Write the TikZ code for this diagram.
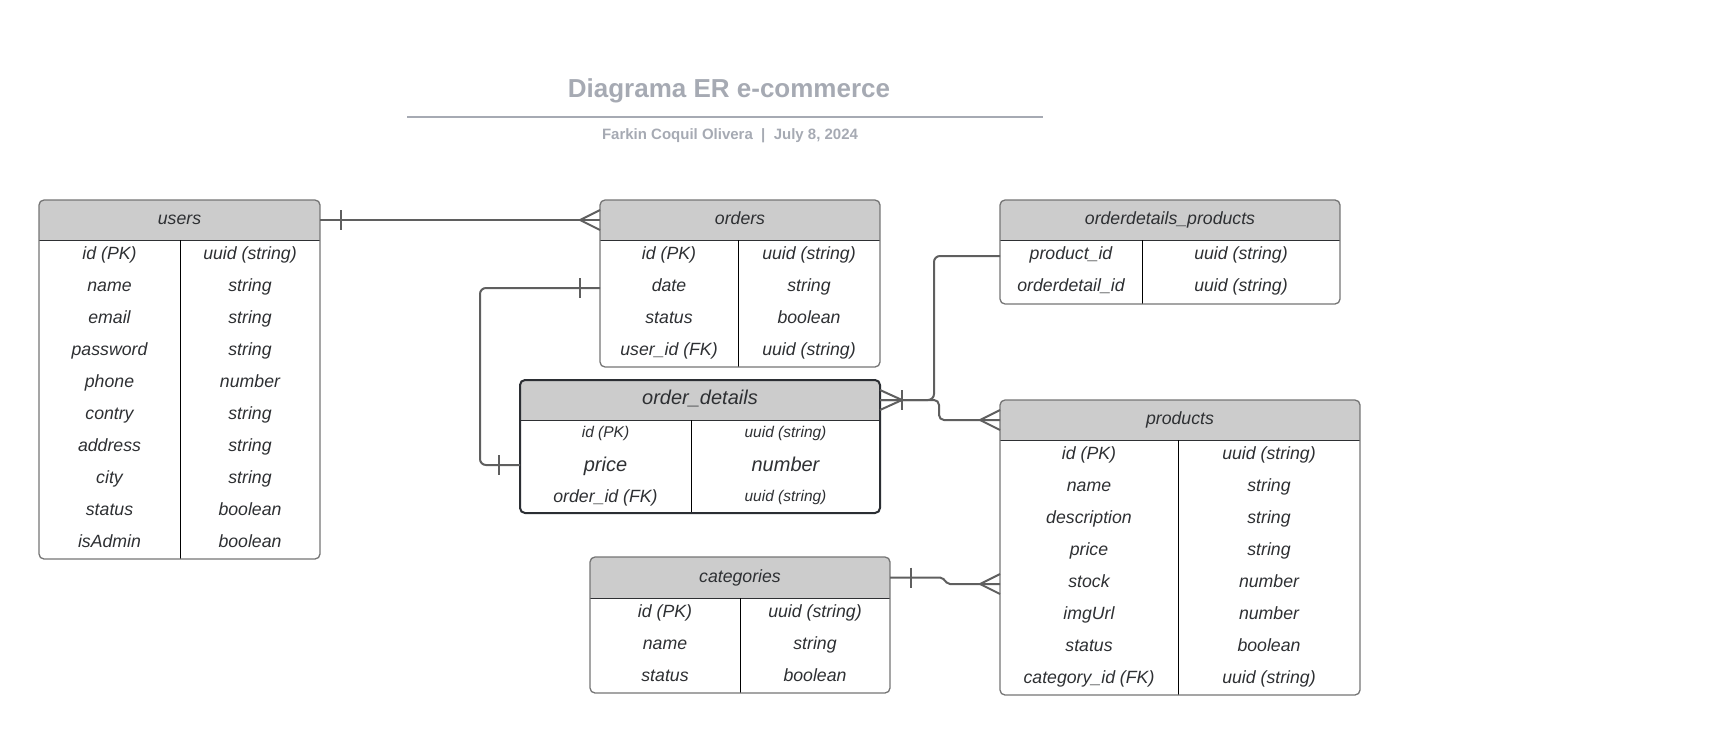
\documentclass[tikz,border=0pt]{standalone}
\usepackage{fontspec}
\setmainfont{Liberation Sans}
\usetikzlibrary{fit}
\definecolor{hdr}{HTML}{CCCCCC}
\definecolor{bord}{HTML}{757575}
\definecolor{dark}{HTML}{2B2E33}
\definecolor{txt}{HTML}{2E3033}
\definecolor{connc}{HTML}{5F5F5F}
\definecolor{ttl}{HTML}{A6AAB3}
\tikzset{
  tabborder/.style={draw=bord, line width=1.3pt},
  odborder/.style={draw=dark, line width=2pt},
  sepline/.style={draw=txt, line width=1pt},
  divline/.style={draw=black, line width=1pt},
  cellbase/.style={text=txt, inner sep=0pt, anchor=base},
  cell/.style={cellbase, font=\fontsize{17.7}{20}\selectfont\itshape, yshift=-6.5pt},
  bigcell/.style={cellbase, font=\fontsize{20}{23}\selectfont\itshape, yshift=-7pt},
  smallcell/.style={cellbase, font=\fontsize{15.5}{18}\selectfont\itshape, yshift=-5.5pt},
  headcell/.style={cellbase, font=\fontsize{17.7}{20}\selectfont\itshape, yshift=-4.5pt},
  bigheadcell/.style={cellbase, font=\fontsize{20}{23}\selectfont\itshape, yshift=-4.5pt},
  conn/.style={draw=connc, line width=2pt},
}
% #1 name #2 x1 #3 y1 #4 x2 #5 y2 #6 header bottom #7 divider x #8 title #9 border style
\newcommand\ERbox[9]{%
  \begin{scope}
    \clip[rounded corners=5pt] (#2,#3) rectangle (#4,#5);
    \fill[white] (#2,#3) rectangle (#4,#5);
    \fill[hdr] (#2,#3) rectangle (#4,#6);
    \draw[sepline] (#2,#6) -- (#4,#6);
    \draw[divline] (#7,#6) -- (#7,#5);
  \end{scope}
  \node[fit={(#2,#3) (#4,#5)}, inner sep=0pt, outer sep=0pt, rounded corners=5pt, #9] (#1) {};
  \coordinate (#1-hm) at ({(#2+#4)/2},{(#3+#6)/2});
}
% #1 name #2 y #3 left center x #4 right center x #5 left #6 right #7 left style #8 right style
\newcommand\ERrow[8]{%
  \node[#7] (#1a) at (#3,#2) {#5};
  \node[#8] (#1b) at (#4,#2) {#6};
}
\begin{document}
\begin{tikzpicture}[x=1pt,y=-1pt]
\useasboundingbox (0,0) rectangle (1720,736);

% title
\node[font=\fontsize{26}{30}\selectfont\bfseries, text=ttl, inner sep=0pt] (title) at (729,90.5) {Diagrama ER e-commerce};
\coordinate (ruleL) at (407,117);
\coordinate (ruleR) at (1043,117);
\draw[draw=ttl, line width=2pt] (ruleL) -- (ruleR);
\node[font=\fontsize{15}{18}\selectfont\bfseries, text=ttl, inner sep=0pt] (sub) at (730,136) {Farkin Coquil Olivera\ \ |\ \ July 8, 2024};

% users
\ERbox{users}{39}{200}{320}{559}{240}{180}{users}{tabborder}
\node[headcell] (users-t) at (users-hm) {users};
\ERrow{users-r1}{253}{109.5}{250}{id (PK)}{uuid (string)}{cell}{cell}
\ERrow{users-r2}{285}{109.5}{250}{name}{string}{cell}{cell}
\ERrow{users-r3}{317}{109.5}{250}{email}{string}{cell}{cell}
\ERrow{users-r4}{349}{109.5}{250}{password}{string}{cell}{cell}
\ERrow{users-r5}{381}{109.5}{250}{phone}{number}{cell}{cell}
\ERrow{users-r6}{413}{109.5}{250}{contry}{string}{cell}{cell}
\ERrow{users-r7}{445}{109.5}{250}{address}{string}{cell}{cell}
\ERrow{users-r8}{477}{109.5}{250}{city}{string}{cell}{cell}
\ERrow{users-r9}{509}{109.5}{250}{status}{boolean}{cell}{cell}
\ERrow{users-r10}{541}{109.5}{250}{isAdmin}{boolean}{cell}{cell}

% orders
\ERbox{orders}{600}{200}{880}{367}{240}{738}{orders}{tabborder}
\node[headcell] (orders-t) at (orders-hm) {orders};
\ERrow{orders-r1}{253}{669}{809}{id (PK)}{uuid (string)}{cell}{cell}
\ERrow{orders-r2}{285}{669}{809}{date}{string}{cell}{cell}
\ERrow{orders-r3}{317}{669}{809}{status}{boolean}{cell}{cell}
\ERrow{orders-r4}{349}{669}{809}{user\_id (FK)}{uuid (string)}{cell}{cell}

% order_details
\ERbox{od}{520}{380}{880}{513}{420}{691}{order\_details}{odborder}
\node[bigheadcell] (od-t) at (od-hm) {order\_details};
\ERrow{od-r1}{432}{605.5}{785.5}{id (PK)}{uuid (string)}{smallcell}{smallcell}
\ERrow{od-r2}{464}{605.5}{785.5}{price}{number}{bigcell}{bigcell}
\ERrow{od-r3}{496}{605.5}{785.5}{order\_id (FK)}{uuid (string)}{cell}{smallcell}

% orderdetails_products
\ERbox{odp}{1000}{200}{1340}{304}{240}{1142}{orderdetails\_products}{tabborder}
\node[headcell] (odp-t) at (odp-hm) {orderdetails\_products};
\ERrow{odp-r1}{253}{1071}{1241}{product\_id}{uuid (string)}{cell}{cell}
\ERrow{odp-r2}{285}{1071}{1241}{orderdetail\_id}{uuid (string)}{cell}{cell}

% products
\ERbox{products}{1000}{400}{1360}{695}{440}{1178}{products}{tabborder}
\node[headcell] (products-t) at (products-hm) {products};
\ERrow{products-r1}{453}{1089}{1269}{id (PK)}{uuid (string)}{cell}{cell}
\ERrow{products-r2}{485}{1089}{1269}{name}{string}{cell}{cell}
\ERrow{products-r3}{517}{1089}{1269}{description}{string}{cell}{cell}
\ERrow{products-r4}{549}{1089}{1269}{price}{string}{cell}{cell}
\ERrow{products-r5}{581}{1089}{1269}{stock}{number}{cell}{cell}
\ERrow{products-r6}{613}{1089}{1269}{imgUrl}{number}{cell}{cell}
\ERrow{products-r7}{645}{1089}{1269}{status}{boolean}{cell}{cell}
\ERrow{products-r8}{677}{1089}{1269}{category\_id (FK)}{uuid (string)}{cell}{cell}

% categories
\ERbox{cat}{590}{557}{890}{693}{598}{740}{categories}{tabborder}
\node[headcell] (cat-t) at (cat-hm) {categories};
\ERrow{cat-r1}{611}{665}{815}{id (PK)}{uuid (string)}{cell}{cell}
\ERrow{cat-r2}{643}{665}{815}{name}{string}{cell}{cell}
\ERrow{cat-r3}{675}{665}{815}{status}{boolean}{cell}{cell}

% users -> orders
\draw[conn] (users.east |- users-hm) -- (orders.west |- users-hm);
\draw[conn] (users.east |- users-hm) ++(21,-10) -- ++(0,20);
\draw[conn] (orders.west |- users-hm) ++(-20,0) -- ++(20,-10) ++(-20,10) -- ++(20,10);

% orders -> order_details
\draw[conn, rounded corners=6pt] (orders.west |- 0,288) -- (480,288) -- (480,465) -- (od.west |- 0,465);
\draw[conn] (orders.west |- 0,288) ++(-20,-10) -- ++(0,20);
\draw[conn] (od.west |- 0,465) ++(-21,-10) -- ++(0,20);

% order_details -> orderdetails_products
\draw[conn, rounded corners=6pt] (od.east |- od-hm) -- (934,400) -- (934,256) -- (odp.west |- 0,256);
% order_details -> products
\draw[conn, rounded corners=5pt] (od.east |- od-hm) -- (939,400) -- (939,420) -- (products.west |- products-hm);
\draw[conn] (od.east |- od-hm) ++(22,0) -- ++(-22,-10) ++(22,10) -- ++(-22,10);
\draw[conn] (od.east |- od-hm) ++(22,-10) -- ++(0,20);
\draw[conn] (products.west |- products-hm) ++(-20,0) -- ++(20,-10) ++(-20,10) -- ++(20,10);

% categories -> products
\draw[conn, rounded corners=2pt] (cat.east |- cat-hm) -- (942,577.5) -- (948,584) -- (products.west |- 0,584);
\draw[conn] (cat.east |- cat-hm) ++(21,-10) -- ++(0,20);
\draw[conn] (products.west |- 0,584) ++(-20,0) -- ++(20,-10) ++(-20,10) -- ++(20,10);
\end{tikzpicture}
\end{document}
